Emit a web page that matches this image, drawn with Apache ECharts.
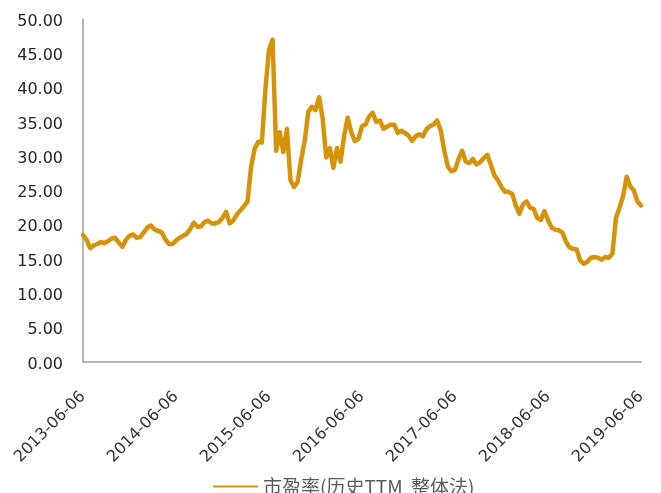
<!DOCTYPE html>
<html>
<head>
<meta charset="utf-8">
<script src="https://cdn.jsdelivr.net/npm/echarts@6/dist/echarts.min.js"></script>
<style>
  html, body { margin: 0; padding: 0; background: #ffffff; }
  #chart { width: 661px; height: 493px; }
</style>
</head>
<body>
<div id="chart"></div>
<script>
// Year marks shown on the date axis
const tickLabels = ['2013-06-06', '2014-06-06', '2015-06-06', '2016-06-06', '2017-06-06', '2018-06-06', '2019-06-06'];
// Samples per year between two consecutive year marks (roughly bi-weekly)
const perYear = 26;

// P/E ratio (trailing TTM, aggregate method), one value per sample
const pe2013 = [18.5, 17.8, 16.6, 17.0, 17.2, 17.5, 17.3, 17.6, 18.0, 18.1, 17.4, 16.8, 17.8,
                18.4, 18.6, 18.1, 18.2, 18.9, 19.6, 19.9, 19.3, 19.1, 18.9, 17.9, 17.2, 17.2];
const pe2014 = [17.7, 18.1, 18.4, 18.7, 19.4, 20.3, 19.7, 19.8, 20.4, 20.6, 20.2, 20.2, 20.4,
                21.0, 21.9, 20.2, 20.6, 21.5, 22.1, 22.7, 23.4, 28.5, 31.1, 32.1, 32.0, 39.8];
const pe2015 = [45.5, 47.0, 30.8, 33.5, 30.6, 34.0, 26.5, 25.5, 26.2, 29.5, 32.3, 36.5, 37.2,
                36.7, 38.6, 35.5, 29.8, 31.2, 28.3, 31.2, 29.2, 33.0, 35.6, 33.5, 32.2, 32.5];
const pe2016 = [34.4, 34.6, 35.8, 36.3, 35.0, 35.2, 34.0, 34.3, 34.6, 34.6, 33.4, 33.7, 33.4,
                33.0, 32.2, 32.9, 33.2, 32.9, 33.9, 34.4, 34.6, 35.2, 33.8, 30.8, 28.5, 27.8];
const pe2017 = [28.0, 29.6, 30.8, 29.2, 29.0, 29.6, 28.8, 29.1, 29.7, 30.2, 28.8, 27.2, 26.5,
                25.5, 24.8, 24.8, 24.5, 22.8, 21.6, 23.0, 23.4, 22.5, 22.3, 21.0, 20.7, 22.0];
const pe2018 = [20.7, 19.6, 19.3, 19.2, 18.9, 17.6, 16.7, 16.5, 16.4, 14.8, 14.3, 14.6, 15.2,
                15.3, 15.2, 14.9, 15.3, 15.2, 15.8, 21.0, 22.5, 24.2, 27.0, 25.6, 25.0, 23.4];
const pe2019 = [22.8];

const peValues = [].concat(pe2013, pe2014, pe2015, pe2016, pe2017, pe2018, pe2019);

// Sample dates: evenly spread between consecutive year marks
function fmtDate(ms) {
  const d = new Date(ms);
  const p = n => (n < 10 ? '0' : '') + n;
  return d.getUTCFullYear() + '-' + p(d.getUTCMonth() + 1) + '-' + p(d.getUTCDate());
}
const categories = [];
for (let k = 0; k < tickLabels.length - 1; k++) {
  const a = Date.parse(tickLabels[k] + 'T00:00:00Z');
  const b = Date.parse(tickLabels[k + 1] + 'T00:00:00Z');
  for (let j = 0; j < perYear; j++) {
    const t = a + (b - a) * j / perYear;
    categories.push(fmtDate(Math.round(t / 86400000) * 86400000));
  }
}
categories.push(tickLabels[tickLabels.length - 1]);

const seriesName = '市盈率(历史TTM  整体法)';
const lineColor = '#D6930A';

const chart = echarts.init(document.getElementById('chart'), null, { renderer: 'canvas' });
chart.setOption({
  animation: false,
  backgroundColor: '#ffffff',
  grid: { left: 83, right: 20, top: 19, bottom: 131, containLabel: false },
  legend: {
    data: [seriesName],
    left: 208,
    top: 472,
    icon: 'rect',
    itemWidth: 45,
    itemHeight: 2,
    itemGap: 6,
    textStyle: { fontFamily: 'Noto Sans CJK SC', fontSize: 19, color: '#595959' }
  },
  xAxis: {
    type: 'category',
    data: categories,
    boundaryGap: false,
    axisLine: { show: true, lineStyle: { color: '#A0A0A0', width: 1.5 } },
    axisTick: { show: false },
    splitLine: { show: false },
    axisLabel: {
      interval: perYear - 1,
      rotate: 45,
      margin: 32,
      fontFamily: 'DejaVu Sans',
      fontSize: 16,
      color: '#333333'
    }
  },
  yAxis: {
    type: 'value',
    min: 0,
    max: 50,
    interval: 5,
    axisLine: { show: true, lineStyle: { color: '#A0A0A0', width: 1.5 } },
    axisTick: { show: false },
    splitLine: { show: false },
    axisLabel: {
      margin: 20,
      fontFamily: 'DejaVu Sans',
      fontSize: 16,
      color: '#262626',
      formatter: v => '{v|' + v.toFixed(2) + '}',
      rich: {
        v: { fontFamily: 'DejaVu Sans', fontSize: 16, color: '#262626', padding: [5, 0, 0, 0] }
      }
    }
  },
  series: [{
    name: seriesName,
    type: 'line',
    data: peValues,
    showSymbol: false,
    smooth: false,
    lineStyle: { color: lineColor, width: 4.5, join: 'round', cap: 'round' },
    itemStyle: { color: lineColor }
  }]
});
</script>
</body>
</html>
